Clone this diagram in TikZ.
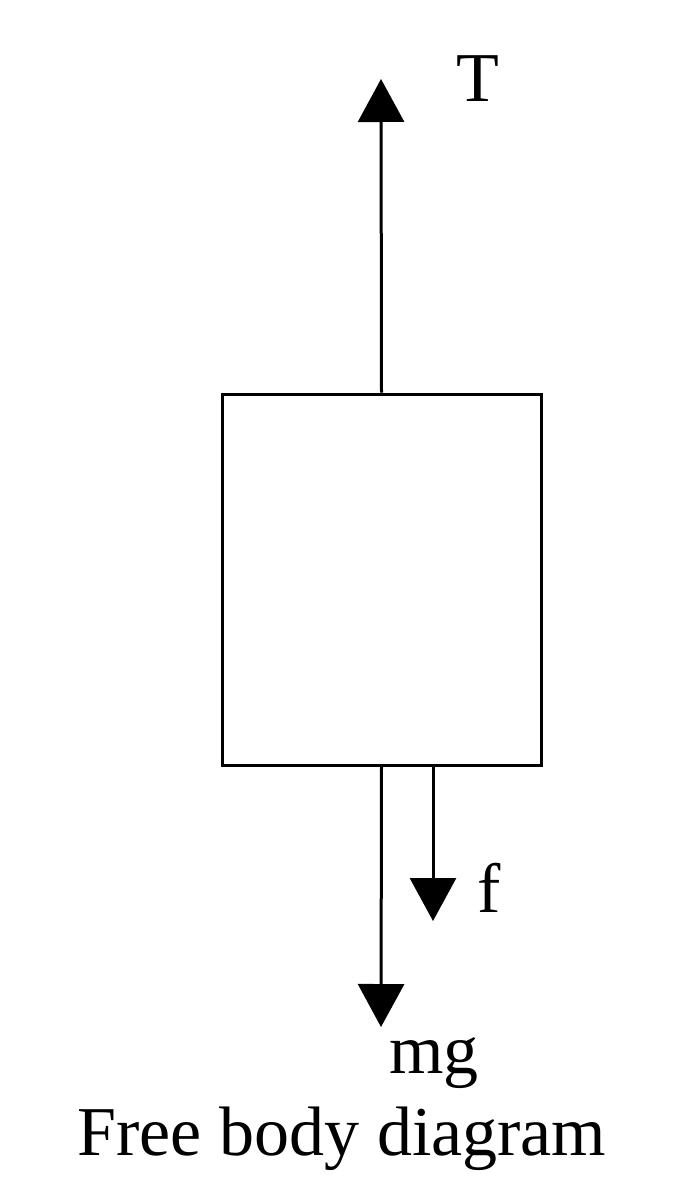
\documentclass[tikz,border=0pt]{standalone}
\usepackage{fontspec}
\setmainfont{Liberation Serif}
\usetikzlibrary{arrows.meta}
\begin{document}
\begin{tikzpicture}[x=1pt,y=-1pt,
  force/.style={line width=3pt,-{Triangle[width=46pt,length=43pt]}},
  lbl/.style={font=\fontsize{70}{80}\selectfont,inner sep=0pt,anchor=base}]
\useasboundingbox (0,0) rectangle (675,1200);
\node[draw,line width=3pt,minimum width=319pt,minimum height=371pt,inner sep=0pt] (box) at (381.5,579.5) {};
\coordinate (ttip) at (381,79);
\coordinate (fstart) at (433,765);
\coordinate (ftip) at (433,921);
\coordinate (mgtip) at (381,1027);
\draw[force] (box.north) -- (ttip);
\draw[force] (fstart) -- (ftip);
\draw[force] (box.south) -- (mgtip);
\node[lbl] (T) at (478,101) {T};
\node[lbl] (f) at (489,912) {f};
\node[lbl] (mg) at (434,1073) {mg};
\node[lbl] (cap) at (342,1155) {Free body diagram};
\end{tikzpicture}
\end{document}
